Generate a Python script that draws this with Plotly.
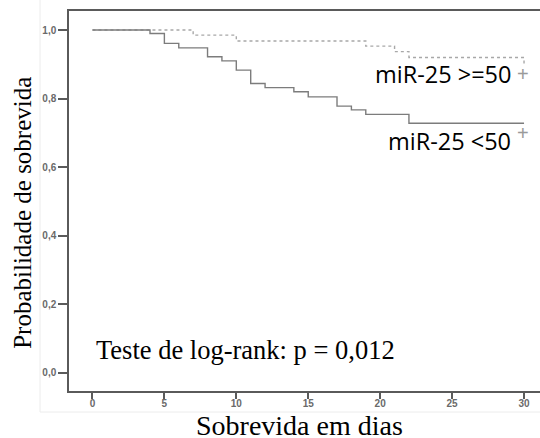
import plotly.graph_objects as go

# Kaplan-Meier estimates (days, survival probability)
dias_baixo = [0, 4, 5, 6, 8, 9, 10, 11, 12, 14, 15, 17, 18, 19, 22, 30]
surv_baixo = [1.0, 0.990, 0.961, 0.948, 0.922, 0.910, 0.883, 0.844, 0.832,
              0.820, 0.805, 0.778, 0.767, 0.754, 0.728, 0.728]

dias_alto = [0, 7, 10, 19, 21, 22, 30, 30]
surv_alto = [1.0, 0.985, 0.968, 0.953, 0.937, 0.920, 0.920, 0.898]

x_ticks = [0, 5, 10, 15, 20, 25, 30]
y_ticks = [0.0, 0.2, 0.4, 0.6, 0.8, 1.0]

label_alto = "miR-25 >=50"
label_baixo = "miR-25 <50"
texto_teste = "Teste de log-rank: p = 0,012"
titulo_x = "Sobrevida em dias"
titulo_y = "Probabilidade de sobrevida"

fig = go.Figure()
fig.add_trace(go.Scatter(x=dias_alto, y=surv_alto, mode="lines", line_shape="hv",
                         line=dict(color="#a8a8a8", width=1.4, dash="dot"),
                         name=label_alto, showlegend=False, hoverinfo="skip"))
fig.add_trace(go.Scatter(x=dias_baixo, y=surv_baixo, mode="lines", line_shape="hv",
                         line=dict(color="#7c7c7c", width=1.4),
                         name=label_baixo, showlegend=False, hoverinfo="skip"))

tick_font = dict(family="Liberation Sans", size=10, color="#6a6a6a", weight="bold")
serif = "Liberation Serif"
sans = "Open Sans"

fig.update_layout(
    width=540, height=438,
    margin=dict(l=69, r=0, t=11, b=47),
    paper_bgcolor="white", plot_bgcolor="white",
    separators=",.",
    xaxis=dict(range=[-1.63, 31.11], tickvals=x_ticks, showgrid=False, zeroline=False,
               showline=True, linecolor="#5a5a5a", linewidth=1.5, mirror=True,
               ticks="outside", ticklen=6, tickcolor="#5a5a5a", tickwidth=1.5,
               ticklabelstandoff=-4, tickfont=tick_font),
    yaxis=dict(range=[-0.0525, 1.0554], tickvals=y_ticks, tickformat=".1f",
               showgrid=False, zeroline=False, showline=True, linecolor="#5a5a5a",
               linewidth=1.5, ticks="outside", ticklen=9, tickcolor="#5a5a5a",
               tickwidth=1.5, tickfont=tick_font),
)

# faint outer panel frame
fig.add_shape(type="rect", xref="paper", yref="paper",
              x0=(40 - 69) / 471, x1=1.02, y0=-(412 - 391) / 380, y1=1.05,
              line=dict(color="#ececec", width=1), fillcolor="rgba(0,0,0,0)", layer="below")

plus_font = dict(family="Liberation Sans", size=20, color="#9a9a9a")
label_font = dict(family=sans, size=23.5, color="black")
annotations = [
    dict(text=label_alto, x=30, y=0.872, xref="x", yref="y", xanchor="right",
         yanchor="middle", xshift=-11, showarrow=False, font=label_font),
    dict(text="+", x=30, y=0.872, xref="x", yref="y", xanchor="center",
         yanchor="middle", xshift=-1, showarrow=False, font=plus_font),
    dict(text=label_baixo, x=30, y=0.676, xref="x", yref="y", xanchor="right",
         yanchor="middle", xshift=-11, showarrow=False, font=label_font),
    dict(text="+", x=30, y=0.700, xref="x", yref="y", xanchor="center",
         yanchor="middle", xshift=-1, showarrow=False, font=plus_font),
    dict(text=texto_teste, x=0.14, y=0.066, xref="x", yref="y",
         xanchor="left", yanchor="middle", showarrow=False,
         font=dict(family=serif, size=26.5, color="black")),
    dict(text=titulo_x, x=0.490, y=-0.091, xref="paper", yref="paper",
         xanchor="center", yanchor="middle", showarrow=False,
         font=dict(family=serif, size=28, color="black")),
    dict(text=titulo_y, x=-0.1005, y=0.468, xref="paper", yref="paper",
         xanchor="center", yanchor="middle", textangle=-90, showarrow=False,
         font=dict(family=serif, size=25, color="black")),
]
fig.update_layout(annotations=annotations)

fig.write_html("out.html")
